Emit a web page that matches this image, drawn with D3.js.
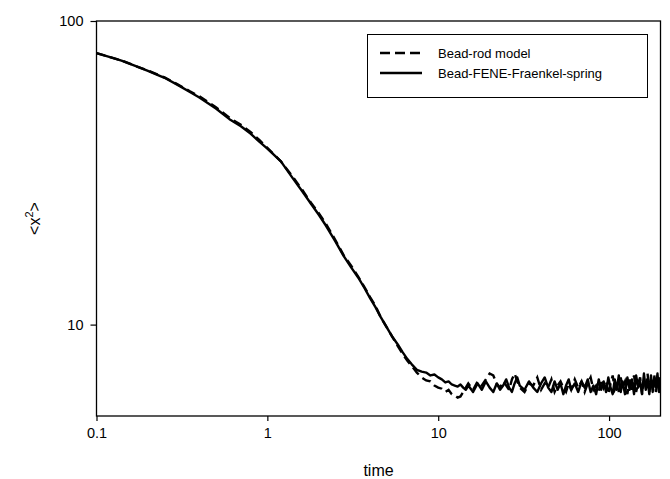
<!DOCTYPE html>
<html>
<head>
<meta charset="utf-8">
<script src="https://cdn.jsdelivr.net/npm/d3@7"></script>
<style>
  body { margin: 0; background: white; }
  svg text { font-family: "Liberation Sans", Arial, sans-serif; fill: black; }
</style>
</head>
<body>
<svg class="chart"></svg>
<script>
// time points (shared by both runs)
var times = [0.1, 0.12, 0.14, 0.17, 0.2, 0.25, 0.3, 0.35, 0.4, 0.5,
  0.6, 0.7, 0.8, 0.9, 1, 1.2, 1.4, 1.6, 1.8, 2,
  2.2, 2.5, 2.8, 3.1, 3.4, 3.7, 4, 4.3, 4.6, 5,
  5.4, 5.8, 6.2, 6.6, 7, 7.5, 8, 8.5, 9, 9.5,
  10, 10.5, 11, 11.5, 12, 12.5, 13, 13.5, 14, 14.5,
  15, 16, 17, 18, 19, 20, 21, 22, 23, 24,
  25, 26, 27, 28, 29, 30, 32, 34, 36, 38,
  40, 42, 44, 46, 48, 50, 52, 54, 56, 58,
  60, 63, 66, 69, 72, 75, 78, 81, 84, 87,
  90, 93, 96, 99, 102, 105, 108, 111, 114, 117,
  120, 124, 128, 132, 136, 140, 144, 148, 152, 156,
  160, 164, 168, 172, 176, 180, 184, 188, 192, 196, 200];

// <x^2> for the bead-rod model (dashed)
var beadRod = [78.4, 76, 74.2, 71, 68.7, 65.2, 61.8, 58.8, 56.5, 52,
  48, 45.5, 43, 40.5, 38.2, 34.5, 30.8, 27.8, 25.2, 23.3,
  21.5, 19, 16.9, 15.6, 14.4, 13.3, 12.3, 11.5, 10.6, 9.8,
  9.1, 8.5, 8.0, 7.6, 7.3, 6.95, 6.7, 6.55, 6.5, 6.3,
  6.2, 6.15, 6.0, 6.1, 5.9, 5.85, 5.75, 5.8, 6.0,
  6.2, 6.4, 6.1, 6.5, 6.3, 6.6, 6.9, 6.8, 6.4, 6.2,
  6.5, 6.3, 6.1, 6.6, 6.9, 6.5, 6.2, 6.0, 6.4, 6.3,
  6.7, 6.1, 6.4, 6.2, 6.6, 6.0, 6.3, 6.5, 6.2, 6.0,
  6.4, 6.1, 6.6, 6.2, 6.5, 6.0, 6.4, 6.7, 6.1, 6.3,
  6.0, 6.6, 6.2, 6.5, 5.9, 6.4, 6.8, 6.1, 6.3, 6.0,
  6.7, 6.2, 6.5, 5.9, 6.6, 6.1, 6.8, 6.0, 6.4, 6.7,
  5.9, 6.5, 6.2, 6.9, 6.0, 6.6, 6.1, 6.8, 6.0, 6.4,
  6.7, 6.3];

// <x^2> for the bead-FENE-Fraenkel-spring model (solid)
var beadFene = [78.4, 76, 74, 71, 68.5, 65, 61.5, 58.5, 56, 51.5,
  47.5, 45, 42.5, 40, 38, 34.5, 30.5, 27.5, 25, 23,
  21.2, 18.8, 16.8, 15.4, 14.3, 13.2, 12.2, 11.4, 10.6, 9.8,
  9.1, 8.6, 8.1, 7.7, 7.4, 7.1, 7.0, 6.95, 6.8, 6.85,
  6.7, 6.6, 6.45, 6.5, 6.35, 6.3, 6.25, 6.35, 6.2,
  6.1, 6.3, 6.0, 6.4, 6.1, 6.5, 6.2, 6.0, 6.4, 6.1,
  6.3, 6.6, 6.2, 6.0, 6.4, 6.7, 6.3,
  6.1, 6.5, 6.2, 6.0, 6.4, 6.7, 6.2, 6.0, 6.5, 6.1, 6.4, 5.9, 6.3, 6.6, 6.1,
  6.4, 6.0, 6.5, 6.2, 6.6, 6.0, 6.3, 5.9, 6.6, 6.1, 6.5, 6.0, 6.7, 6.2, 5.9, 6.6, 6.1, 6.8, 6.0, 6.5,
  5.9, 6.7, 6.1, 6.6, 5.9, 6.8, 6.2, 6.5, 5.9, 6.9, 6.1, 6.6, 5.9, 6.8, 6.0, 6.7, 6.2, 6.9, 6.0, 6.5];

var xTicks = [0.1, 1, 10, 100];
var xTickLabels = ["0.1", "1", "10", "100"];
var yTicks = [10, 100];
var yTickLabels = ["10", "100"];
var seriesNames = ["Bead-rod model", "Bead-FENE-Fraenkel-spring"];

var width = 670, height = 479;
var plotLeft = 96.5, plotRight = 660.5, plotTop = 21, plotBottom = 416;

var svg = d3.select("svg.chart").attr("width", width).attr("height", height);

var x = d3.scaleLog().domain([0.1, 200]).range([plotLeft, plotRight]);
var y = d3.scaleLog().domain([5, 100]).range([plotBottom, plotTop]);

svg.append("defs").append("clipPath").attr("id", "plotClip")
  .append("rect")
    .attr("x", plotLeft).attr("y", plotTop)
    .attr("width", plotRight - plotLeft).attr("height", plotBottom - plotTop);

// curves
var line = d3.line()
  .x(function (d) { return x(d[0]); })
  .y(function (d) { return y(d[1]); });

var curves = svg.append("g").attr("clip-path", "url(#plotClip)");

curves.append("path")
  .datum(times.map(function (t, i) { return [t, beadFene[i]]; }))
  .attr("d", line)
  .attr("fill", "none").attr("stroke", "black")
  .attr("stroke-width", 2.4).attr("stroke-linejoin", "round");

curves.append("path")
  .datum(times.map(function (t, i) { return [t, beadRod[i]]; }))
  .attr("d", line)
  .attr("fill", "none").attr("stroke", "black")
  .attr("stroke-width", 2.4).attr("stroke-dasharray", "9,5");

// frame
svg.append("rect")
  .attr("x", plotLeft).attr("y", plotTop)
  .attr("width", plotRight - plotLeft).attr("height", plotBottom - plotTop)
  .attr("fill", "none").attr("stroke", "black").attr("stroke-width", 1.3);

// axes
var xAxis = svg.append("g")
  .attr("transform", "translate(0," + plotBottom + ")")
  .call(d3.axisBottom(x).tickValues(xTicks)
    .tickFormat(function (d, i) { return xTickLabels[i]; })
    .tickSize(5).tickPadding(7));

var yAxis = svg.append("g")
  .attr("transform", "translate(" + plotLeft + ",0)")
  .call(d3.axisLeft(y).tickValues(yTicks)
    .tickFormat(function (d, i) { return yTickLabels[i]; })
    .tickSize(6).tickPadding(7));

[xAxis, yAxis].forEach(function (a) {
  a.select(".domain").remove();
  a.selectAll(".tick line").attr("stroke", "black").attr("stroke-width", 1.2);
  a.selectAll(".tick text")
    .attr("font-family", "Liberation Sans, Arial, sans-serif")
    .attr("font-size", "14.5px").attr("fill", "black");
});

// axis titles
svg.append("text")
  .attr("x", (plotLeft + plotRight) / 2).attr("y", 476)
  .attr("text-anchor", "middle")
  .attr("font-size", "16px")
  .text("time");

var yTitle = svg.append("text")
  .attr("transform", "translate(40," + ((plotTop + plotBottom) / 2) + ") rotate(-90)")
  .attr("text-anchor", "middle")
  .attr("font-size", "16px");
yTitle.append("tspan").text("<x");
yTitle.append("tspan").attr("dy", -7).attr("font-size", "11px").text("2");
yTitle.append("tspan").attr("dy", 7).text(">");

// legend
var legend = svg.append("g").attr("class", "legend");
legend.append("rect")
  .attr("x", 367.5).attr("y", 34.5).attr("width", 280).attr("height", 63)
  .attr("fill", "white").attr("stroke", "black").attr("stroke-width", 1);

seriesNames.forEach(function (name, i) {
  var ly = 53 + i * 20;
  legend.append("line")
    .attr("x1", 380).attr("x2", 422).attr("y1", ly).attr("y2", ly)
    .attr("stroke", "black").attr("stroke-width", 2.4)
    .attr("stroke-dasharray", i == 0 ? "10,5" : null);
  legend.append("text")
    .attr("x", 438).attr("y", ly + 4.5)
    .attr("font-size", "13px")
    .text(name);
});
</script>
</body>
</html>
